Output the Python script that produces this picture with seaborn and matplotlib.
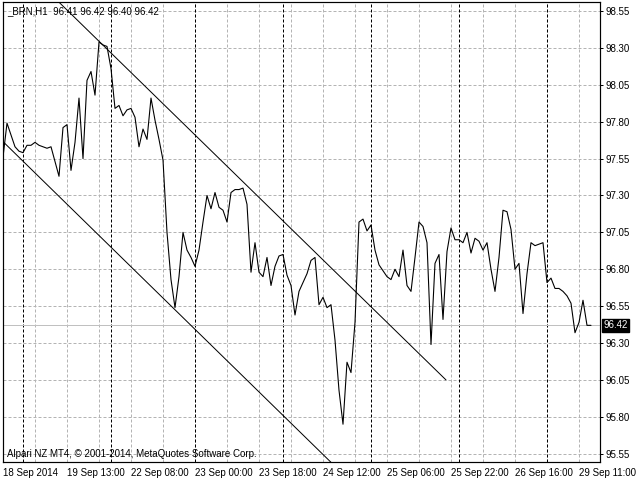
import pandas as pd
import matplotlib
matplotlib.use("Agg")
import matplotlib.pyplot as plt
import matplotlib.transforms as mtransforms
import seaborn as sns

# hourly closes of _BRN (H1), one per bar
closes = [
    97.56, 97.79, 97.71, 97.63, 97.60, 97.59, 97.64, 97.64, 97.66, 97.64,
    97.63, 97.62, 97.63, 97.53, 97.43, 97.76, 97.78, 97.47, 97.66, 97.96,
    97.55, 98.08, 98.14, 97.98, 98.34, 98.32, 98.31, 98.16, 97.89, 97.91,
    97.84, 97.88, 97.89, 97.83, 97.63, 97.75, 97.68, 97.96, 97.81, 97.68,
    97.54, 97.05, 96.73, 96.54, 96.75, 97.05, 96.93, 96.88, 96.82, 96.93,
    97.12, 97.30, 97.21, 97.32, 97.22, 97.20, 97.12, 97.32, 97.34, 97.34,
    97.35, 97.24, 96.78, 96.98, 96.78, 96.75, 96.88, 96.69, 96.82, 96.89,
    96.90, 96.76, 96.69, 96.49, 96.65, 96.71, 96.77, 96.86, 96.88, 96.56,
    96.61, 96.54, 96.56, 96.32, 95.98, 95.75, 96.17, 96.10, 96.44, 97.12,
    97.14, 97.06, 97.10, 96.93, 96.83, 96.79, 96.75, 96.73, 96.80, 96.75,
    96.93, 96.69, 96.65, 96.88, 97.12, 97.09, 96.98, 96.29, 96.84, 96.90,
    96.46, 96.92, 97.08, 97.00, 97.00, 96.98, 97.05, 96.91, 97.01, 96.99,
    96.93, 96.98, 96.80, 96.65, 96.88, 97.20, 97.19, 97.07, 96.80, 96.84,
    96.50, 96.77, 96.98, 96.96, 96.97, 96.98, 96.71, 96.74, 96.67, 96.67,
    96.65, 96.62, 96.57, 96.37, 96.44, 96.59, 96.42, 96.42,
]
last_price = 96.42
header = "_BRN,H1  96.41 96.42 96.40 96.42"
footer = "Alpari NZ MT4, \u00a9 2001-2014, MetaQuotes Software Corp."

# time axis labels (every 16 bars) and day separators (bar index)
time_label_bars = [0, 16, 32, 48, 64, 80, 96, 112, 128, 144]
time_labels = ["18 Sep 2014", "19 Sep 13:00", "22 Sep 08:00", "23 Sep 00:00",
               "23 Sep 18:00", "24 Sep 12:00", "25 Sep 06:00", "25 Sep 22:00",
               "26 Sep 16:00", "29 Sep 11:00"]
grid_bars = list(range(8, 149, 8))
day_separators = [5, 27, 48, 70, 92, 114, 136]
price_ticks = [95.55, 95.80, 96.05, 96.30, 96.55, 96.80, 97.05, 97.30,
               97.55, 97.80, 98.05, 98.30, 98.55]

# descending channel (two parallel trend lines)
upper_line_bars = [0, 110.75]
upper_line_prices = [98.98, 96.05]
lower_line_bars = [0, 110.75]
lower_line_prices = [97.665, 94.73]

sns.set_style("white")
plt.rcParams["font.family"] = ["Liberation Sans", "DejaVu Sans"]
plt.rcParams["font.size"] = 7

px = 0.72  # one pixel in points at 100 dpi
fig = plt.figure(figsize=(6.4, 4.8), dpi=100)
ax = fig.add_axes([3 / 640, 18 / 480, 597 / 640, 460 / 480])

df = pd.DataFrame({"bar": range(len(closes)), "close": closes})

# grid
dash = (0, (3, 2))
for p in price_ticks:
    ax.axhline(p, color="#b4b4b4", lw=px, ls=dash, zorder=1)
for b in grid_bars:
    ax.axvline(b, color="#b4b4b4", lw=px, ls=dash, zorder=1)
for b in day_separators:
    ax.axvline(b, color="black", lw=px, ls=dash, zorder=2)

ax.axhline(last_price, color="#c0c0c0", lw=px, zorder=2)

sns.lineplot(data=df, x="bar", y="close", ax=ax, color="black", lw=1.1 * px,
             zorder=5)
ax.plot(upper_line_bars, upper_line_prices, color="black", lw=px, zorder=4)
ax.plot(lower_line_bars, lower_line_prices, color="black", lw=px, zorder=4)

ax.set_xlim(0, 149.25)
ax.set_ylim(95.494, 98.611)

ax.set_xticks(time_label_bars)
ax.set_xticklabels(time_labels, ha="left")
ax.set_yticks(price_ticks)
ax.set_yticklabels([f"{p:.2f}" for p in price_ticks])
ax.yaxis.tick_right()
ax.tick_params(axis="x", direction="out", length=3, width=px, pad=1.5,
               colors="black", labelsize=7)
ax.tick_params(axis="y", direction="out", length=2.2, width=px, pad=2,
               colors="black", labelsize=7, left=False, labelleft=False,
               right=True, labelright=True)
ax.set_xlabel("")
ax.set_ylabel("")
for s in ax.spines.values():
    s.set_visible(True)
    s.set_color("black")
    s.set_linewidth(1.2 * px)

ax.text(4 / 597, 1 - 9 / 460, header, transform=ax.transAxes,
        ha="left", va="center", fontsize=7, color="black")
ax.text(4 / 597, 1 - 452 / 460, footer, transform=ax.transAxes,
        ha="left", va="center", fontsize=7, color="black")

trans = mtransforms.blended_transform_factory(ax.transAxes, ax.transData)
ax.text(1.006, last_price, f"{last_price:.2f}", transform=trans,
        ha="left", va="center", fontsize=7, color="white", zorder=10,
        bbox=dict(boxstyle="square,pad=0.12", fc="black", ec="black"),
        clip_on=False)

fig.savefig("out.png", dpi=100)
